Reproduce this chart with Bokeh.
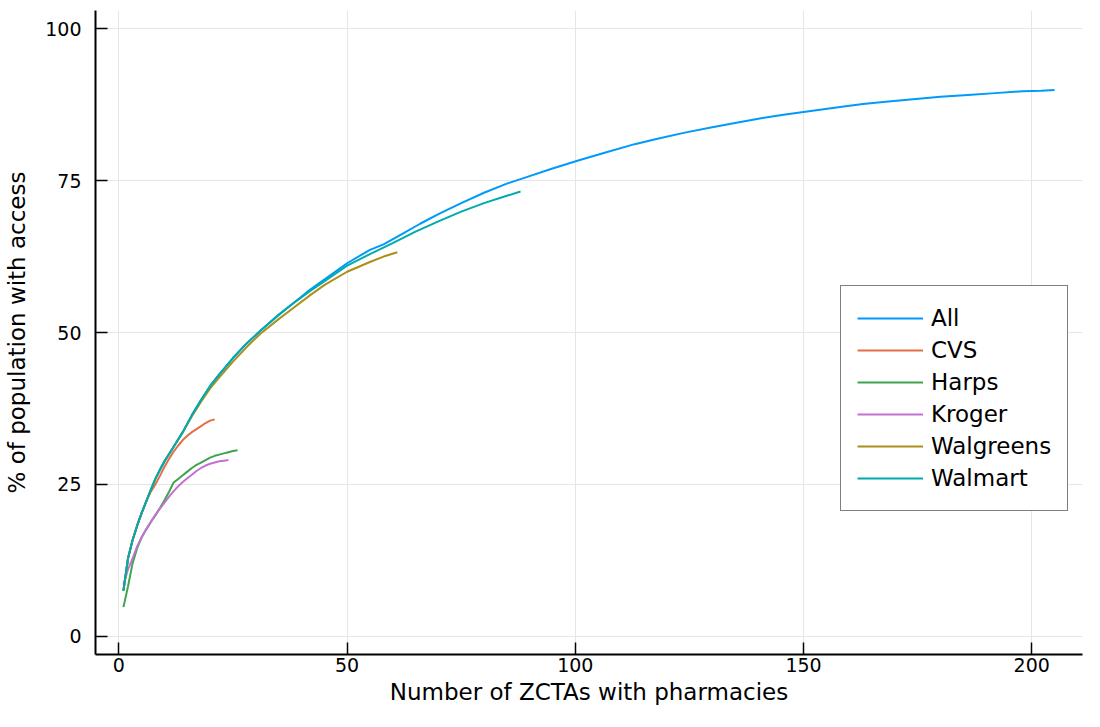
from bokeh.plotting import figure
from bokeh.models import Range1d, Legend, LegendItem, FixedTicker
from bokeh.embed import file_html
from bokeh.resources import INLINE

# ---- data ----
all_x = [1, 2, 3, 4, 5, 6, 7, 8, 9, 10, 12, 14, 16, 18, 20, 22, 25, 28, 31, 35, 38, 42, 45, 50, 55,
         58, 62, 66, 70, 75, 80, 85, 89, 95, 101, 107, 113, 118, 124, 130, 135, 141, 146, 152, 158,
         163, 168, 174, 180, 186, 192, 198, 202, 205]
all_y = [7.5, 12.8, 15.8, 18.2, 20.3, 22.2, 24.1, 25.9, 27.4, 28.8, 31.2, 33.6, 36.4, 38.9, 41.2, 43.1,
         45.8, 48.2, 50.3, 52.9, 54.7, 57.1, 58.7, 61.4, 63.6, 64.5, 66.2, 67.9, 69.5, 71.3, 73.0,
         74.5, 75.5, 77.0, 78.4, 79.7, 81.0, 81.9, 82.9, 83.8, 84.5, 85.3, 85.9, 86.5, 87.1, 87.6,
         88.0, 88.4, 88.8, 89.1, 89.4, 89.7, 89.8, 89.9]

cvs_x = [1, 2, 3, 4, 5, 6, 7, 8, 9, 10, 11, 12, 13, 14, 15, 16, 17, 18, 19, 20, 21]
cvs_y = [7.5, 12.8, 15.8, 18.2, 20.3, 22.2, 23.8, 25.0, 26.4, 27.9, 29.2, 30.4, 31.4, 32.3, 33.0,
         33.6, 34.1, 34.6, 35.1, 35.5, 35.7]

harps_x = [1, 2, 3, 4, 5, 6, 7, 8, 9, 10, 11, 12, 13, 14, 15, 16, 17, 18, 19, 20, 21, 22, 23, 24, 25, 26]
harps_y = [4.8, 8.2, 12.0, 14.5, 16.3, 17.6, 18.8, 19.9, 21.1, 22.4, 23.8, 25.3, 25.9, 26.5, 27.1,
           27.7, 28.2, 28.6, 29.0, 29.4, 29.7, 29.9, 30.1, 30.3, 30.5, 30.6]

kroger_x = [1, 2, 3, 4, 5, 6, 7, 8, 9, 10, 11, 12, 13, 14, 15, 16, 17, 18, 19, 20, 21, 22, 23, 24]
kroger_y = [8.5, 11.0, 12.8, 14.8, 16.3, 17.6, 18.8, 20.0, 21.0, 22.0, 23.0, 23.9, 24.7, 25.4, 26.0,
            26.6, 27.2, 27.7, 28.1, 28.4, 28.6, 28.8, 28.9, 29.0]

walgreens_x = [1, 2, 3, 4, 5, 6, 7, 8, 9, 10, 12, 14, 16, 18, 20, 22, 25, 28, 31, 35, 38, 42, 45,
               50, 55, 58, 61]
walgreens_y = [7.5, 12.8, 15.8, 18.2, 20.3, 22.2, 24.1, 25.9, 27.4, 28.8, 31.2, 33.6, 36.2, 38.6,
               40.8, 42.6, 45.2, 47.6, 49.8, 52.2, 53.9, 56.2, 57.8, 60.0, 61.6, 62.5, 63.2]

walmart_x = [1, 2, 3, 4, 5, 6, 7, 8, 9, 10, 12, 14, 16, 18, 20, 22, 25, 28, 31, 35, 38, 42, 45, 50,
             55, 60, 65, 70, 75, 80, 85, 88]
walmart_y = [7.5, 12.8, 15.8, 18.2, 20.3, 22.2, 24.1, 25.9, 27.4, 28.8, 31.2, 33.6, 36.4, 38.9, 41.2,
             43.1, 45.8, 48.2, 50.3, 52.9, 54.7, 56.9, 58.4, 61.0, 62.9, 64.7, 66.6, 68.3, 69.9,
             71.3, 72.5, 73.2]

series_names = ["All", "CVS", "Harps", "Kroger", "Walgreens", "Walmart"]
series_x = [all_x, cvs_x, harps_x, kroger_x, walgreens_x, walmart_x]
series_y = [all_y, cvs_y, harps_y, kroger_y, walgreens_y, walmart_y]
colors = ["#009AFA", "#E36F47", "#3EA44E", "#C371D2", "#AC8E18", "#00AAAE"]

x_ticks = [0, 50, 100, 150, 200]
y_ticks = [0, 25, 50, 75, 100]

FONT = "DejaVu Sans"

p = figure(width=1084, height=711, output_backend="svg", toolbar_location=None,
           x_range=Range1d(-5.12, 211.12), y_range=Range1d(-3, 103),
           min_border_left=95, min_border_right=2, min_border_top=10, min_border_bottom=57)
p.outline_line_color = None
p.background_fill_color = "white"

items = []
for name, xs, ys, c in zip(series_names, series_x, series_y, colors):
    r = p.line(xs, ys, line_color=c, line_width=2)
    items.append(LegendItem(label=name, renderers=[r]))

for ax, ticks in ((p.xaxis[0], x_ticks), (p.yaxis[0], y_ticks)):
    ax.ticker = FixedTicker(ticks=ticks)
    ax.minor_tick_line_color = None
    ax.major_tick_in = 12
    ax.major_tick_out = 0
    ax.major_tick_line_width = 1.5
    ax.axis_line_width = 2
    ax.axis_line_color = "black"
    ax.major_tick_line_color = "black"
    ax.major_label_text_font = FONT
    ax.major_label_text_font_size = "19px"
    ax.major_label_text_color = "black"
    ax.axis_label_text_font = FONT
    ax.axis_label_text_font_size = "23px"
    ax.axis_label_text_font_style = "normal"
    ax.axis_label_text_color = "black"

p.xaxis.axis_label = "Number of ZCTAs with pharmacies"
p.yaxis.axis_label = "% of population with access"
p.xaxis.major_label_standoff = 3
p.xaxis.axis_label_standoff = 4
p.yaxis.major_label_standoff = 14
p.yaxis.axis_label_standoff = 12

p.xgrid.ticker = FixedTicker(ticks=x_ticks)
p.ygrid.ticker = FixedTicker(ticks=y_ticks)
p.grid.grid_line_color = "#e6e6e6"
p.grid.grid_line_width = 1

legend = Legend(items=items, location=(745, 143))
legend.glyph_width = 66
legend.glyph_height = 32
legend.label_height = 32
legend.spacing = 0
legend.padding = 16
legend.margin = 0
legend.label_standoff = 8
legend.label_text_font = FONT
legend.label_text_font_size = "23px"
legend.label_text_color = "black"
legend.border_line_color = "black"
legend.border_line_width = 1.5
legend.background_fill_alpha = 1
p.add_layout(legend, "center")

open("out.html", "w").write(file_html(p, INLINE))
